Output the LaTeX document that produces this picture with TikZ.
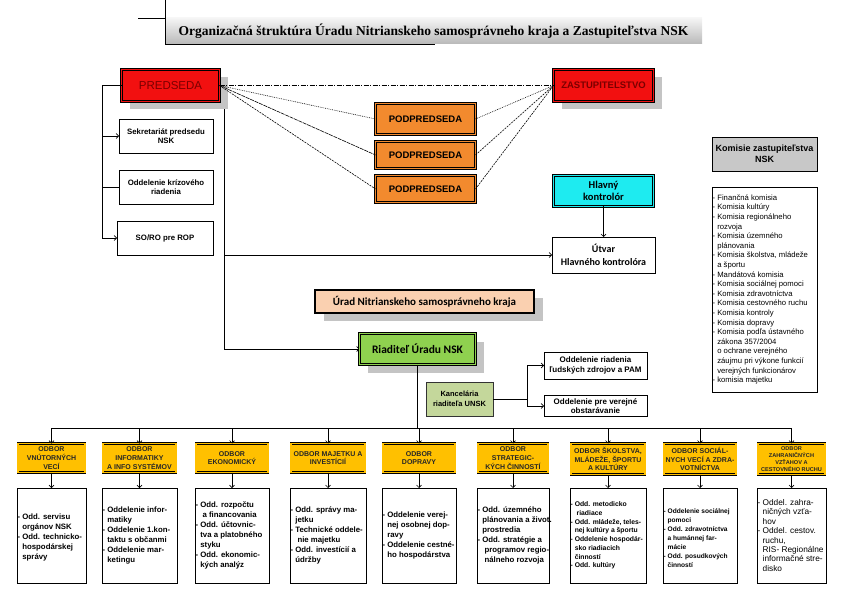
\documentclass[tikz,border=0pt]{standalone}
\usepackage{fontspec}
\setmainfont{Liberation Sans}
\newfontfamily\titlefont{Liberation Serif}
\newfontfamily\calfont{Carlito}
\usetikzlibrary{arrows.meta,shadows,backgrounds}
\definecolor{predred}{HTML}{F21010}
\definecolor{darkred}{HTML}{7A0000}
\definecolor{ppor}{HTML}{F28A2E}
\definecolor{cyanb}{HTML}{1EEBF0}
\definecolor{peach}{HTML}{FAD0B0}
\definecolor{greenb}{HTML}{8FD14F}
\definecolor{kancg}{HTML}{C4D79B}
\definecolor{goldb}{HTML}{FFC000}
\definecolor{komg}{HTML}{C8C8C8}
\definecolor{shadowc}{HTML}{C4C4C4}
\newcommand\myin{\hphantom{-\ }}
\begin{document}
\begin{tikzpicture}[x=1pt,y=-1pt,
  >={Straight Barb[length=2.5pt,width=5pt]},
  every node/.style={inner sep=0pt,outer sep=0pt},
  conn/.style={line width=0.6pt},
  dbl/.style={draw=black, line width=0.7pt, double=#1, double distance=1.1pt, fill=#1},
  shad/.style={drop shadow={shadow xshift=8.5pt,shadow yshift=-8pt,fill=shadowc,opacity=1}},
  thinbox/.style={draw=black, line width=0.7pt, fill=white},
  smallb/.style={font=\bfseries\fontsize{7.8}{9.5}\selectfont, align=center},
  odbor/.style={dbl=goldb, minimum height=29, font=\bfseries\fontsize{7}{8.8}\selectfont, align=center, text=black!85},
  subbox/.style={thinbox, minimum height=95},
  subtext/.style={anchor=west, align=left, font=\bfseries\fontsize{7.8}{10}\selectfont},
  pp/.style={dbl=ppor, minimum width=100, font=\bfseries\fontsize{9.5}{11}\selectfont},
]
\useasboundingbox (0,0) rectangle (843,596);

% title
\node[top color=gray!8, bottom color=gray!55, minimum width=537, minimum height=26,
      font=\titlefont\bfseries\fontsize{13.5}{15}\selectfont] (TITLE) at (433.5,31)
  {Organizačná štruktúra Úradu Nitrianskeho samosprávneho kraja a Zastupiteľstva NSK};
\draw[line width=0.7pt] (TITLE.north west) -- (TITLE.north west |- 0,0);
\draw[line width=0.7pt] (TITLE.north west) -- ++(-27,0);
\draw[line width=0.9pt] (TITLE.north west) -- (TITLE.south west) -- ++(270,0);

% top part
\node[dbl=predred, shad, minimum width=98, minimum height=32, text=darkred,
      font=\fontsize{11.5}{13}\selectfont] (PRED) at (170.5,85.5) {PREDSEDA};
\node[thinbox, smallb, minimum width=94, minimum height=34] (SEKR) at (166,136) {Sekretariát predsedu\\NSK};
\node[thinbox, smallb, minimum width=94, minimum height=34] (KRIZ) at (166,187) {Oddelenie krízového\\riadenia};
\node[thinbox, smallb, minimum width=96, minimum height=34] (SORO) at (165,238) {SO/RO pre ROP};

\node[pp, minimum height=31] (PP1) at (425.5,119) {PODPREDSEDA};
\node[pp, minimum height=27] (PP2) at (425.5,155) {PODPREDSEDA};
\node[pp, minimum height=27] (PP3) at (425.5,189) {PODPREDSEDA};

\node[dbl=predred, shad, minimum width=100, minimum height=32, text=darkred,
      font=\bfseries\fontsize{9.5}{11}\selectfont] (ZAST) at (603.5,85.5) {ZASTUPITEĽSTVO};
\node[dbl=cyanb, minimum width=100, minimum height=31, align=center,
      font=\calfont\bfseries\fontsize{10.5}{11.7}\selectfont] (HLAV) at (603.5,191) {Hlavný\\kontrolór};
\node[thinbox, minimum width=103, minimum height=36, align=center,
      font=\calfont\bfseries\fontsize{10}{13}\selectfont] (UTVAR) at (603.5,255) {Útvar\\Hlavného kontrolóra};

\node[draw=black, line width=0.7pt, fill=komg, minimum width=105, minimum height=34, align=center,
      font=\bfseries\fontsize{9}{11}\selectfont] (KOMH) at (764.5,154) {Komisie zastupiteľstva\\NSK};
\node[thinbox, minimum width=105, minimum height=205] (KOML) at (764.5,289.5) {};
\node[anchor=west, align=left, font=\fontsize{7.7}{9.6}\selectfont] (KOMT) at ([xshift=0.6pt]KOML.west)
  {- Finančná komisia\\- Komisia kultúry\\- Komisia regionálneho\\\myin rozvoja\\- Komisia územného\\\myin plánovania\\- Komisia školstva, mládeže\\\myin a športu\\- Mandátová komisia\\- Komisia sociálnej pomoci\\- Komisia zdravotníctva\\- Komisia cestovného ruchu\\- Komisia kontroly\\- Komisia dopravy\\- Komisia podľa ústavného\\\myin zákona 357/2004\\\myin o ochrane verejného\\\myin záujmu pri výkone  funkcií\\\myin verejných funkcionárov\\- komisia majetku};

% middle
\node[draw=black, line width=1.6pt, fill=peach, shad, minimum width=219, minimum height=23,
      font=\calfont\bfseries\fontsize{11}{13}\selectfont] (URAD) at (424.5,301.5) {Úrad Nitrianskeho samosprávneho kraja};
\node[dbl=greenb, shad, minimum width=116, minimum height=31,
      font=\calfont\bfseries\fontsize{11.5}{13}\selectfont] (RIAD) at (417.5,349) {Riaditeľ Úradu NSK};
\node[draw=black!80, line width=0.6pt, fill=kancg, minimum width=67, minimum height=34, align=center,
      font=\bfseries\fontsize{7.5}{10.5}\selectfont] (KANC) at (459.5,399) {Kancelária\\riaditeľa UNSK};
\node[thinbox, minimum width=103, minimum height=27, align=center,
      font=\bfseries\fontsize{8}{9.5}\selectfont] (ODDR) at (595.5,365.5) {Oddelenie riadenia\\ľudských zdrojov a PAM};
\node[thinbox, minimum width=103, minimum height=21, align=center,
      font=\bfseries\fontsize{8}{9}\selectfont] (ODDV) at (595.5,406) {Oddelenie pre verejné\\obstarávanie};

% odbory
\node[odbor, minimum width=67] (O1) at (51.5,458) {ODBOR\\VNÚTORNÝCH\\VECÍ};
\node[odbor, minimum width=73] (O2) at (139.5,458) {ODBOR\\INFORMATIKY\\A INFO SYSTÉMOV};
\node[odbor, minimum width=72] (O3) at (232,458) {ODBOR\\EKONOMICKÝ};
\node[odbor, minimum width=74] (O4) at (328,458) {ODBOR MAJETKU A\\INVESTÍCIÍ};
\node[odbor, minimum width=72] (O5) at (419,458) {ODBOR\\DOPRAVY};
\node[odbor, minimum width=70] (O6) at (513,458) {ODBOR\\STRATEGIC-\\KÝCH ČINNOSTÍ};
\node[odbor, minimum width=74, minimum height=31] (O7) at (608,459) {ODBOR ŠKOLSTVA,\\MLÁDEŽE, ŠPORTU\\A KULTÚRY};
\node[odbor, minimum width=72, minimum height=31] (O8) at (700,459) {ODBOR SOCIÁL-\\NYCH VECÍ A ZDRA-\\VOTNÍCTVA};
\node[odbor, minimum width=67, minimum height=31, font=\bfseries\fontsize{5.6}{7}\selectfont] (O9) at (791.5,459) {ODBOR\\ZAHRANIČNÝCH\\VZŤAHOV A\\CESTOVNÉHO RUCHU};

\node[subbox, minimum width=69] (S1) at (51.5,535.5) {};
\node[subbox, minimum width=75] (S2) at (139.5,535.5) {};
\node[subbox, minimum width=74] (S3) at (232,535.5) {};
\node[subbox, minimum width=76] (S4) at (328,535.5) {};
\node[subbox, minimum width=74] (S5) at (419,535.5) {};
\node[subbox, minimum width=72] (S6) at (513,535.5) {};
\node[subbox, minimum width=76] (S7) at (608,535.5) {};
\node[subbox, minimum width=74] (S8) at (700,535.5) {};
\node[subbox, minimum width=69] (S9) at (791.5,535.5) {};

\node[subtext] (T1) at ([xshift=0.6pt,yshift=-2pt]S1.west) {- Odd. servisu\\\myin orgánov NSK\\- Odd. technicko-\\\myin hospodárskej\\\myin správy};
\node[subtext] (T2) at ([xshift=0.6pt]S2.west) {- Oddelenie infor-\\\myin matiky\\- Oddelenie 1.kon-\\\myin taktu s občanmi\\- Oddelenie mar-\\\myin ketingu};
\node[subtext] (T3) at ([xshift=0.6pt]S3.west) {- Odd. rozpočtu\\\myin\ a financovania\\- Odd. účtovnic-\\\myin tva a platobného\\\myin styku\\- Odd. ekonomic-\\\myin kých analýz};
\node[subtext] (T4) at ([xshift=0.6pt]S4.west) {- Odd. správy ma-\\\myin jetku\\- Technické oddele-\\\myin\ nie majetku\\- Odd. investícií a\\\myin údržby};
\node[subtext] (T5) at ([xshift=0.6pt]S5.west) {- Oddelenie verej-\\\myin nej osobnej dop-\\\myin ravy\\- Oddelenie cestné-\\\myin ho hospodárstva};
\node[subtext] (T6) at ([xshift=0.6pt]S6.west) {- Odd. územného\\\myin plánovania a život.\\\myin prostredia\\- Odd. stratégie a\\\myin\ programov regio-\\\myin\ nálneho rozvoja};
\node[subtext, font=\bfseries\fontsize{6.8}{8.7}\selectfont] (T7) at ([xshift=0.6pt]S7.west) {- Odd. metodicko\\\myin\ riadiace\\- Odd. mládeže, teles-\\\myin nej kultúry a športu\\- Oddelenie hospodár-\\\myin sko riadiacich\\\myin činností\\- Odd. kultúry};
\node[subtext, font=\bfseries\fontsize{6.6}{9}\selectfont] (T8) at ([xshift=0.6pt,yshift=-3pt]S8.west) {- Oddelenie sociálnej\\\myin pomoci\\- Odd. zdravotníctva\\\myin a humánnej far-\\\myin mácie\\- Odd. posudkových\\\myin činností};
\node[subtext, font=\fontsize{8.3}{9.4}\selectfont] (T9) at ([xshift=0.6pt]S9.west) {- Oddel. zahra-\\\myin ničných vzťa-\\\myin hov\\- Oddel. cestov.\\\myin ruchu,\\\myin RIS- Regionálne\\\myin informačné stre-\\\myin disko};

% connectors
\coordinate (pv) at (224,85.5);
\coordinate (lb) at (102,85.5);
\begin{scope}[on background layer]
  \draw[conn,->] (PRED.east) -- (pv) |- (RIAD.west);
  \draw[conn,->] (pv |- UTVAR.west) -- (UTVAR.west);
\end{scope}
\draw[conn,->] (PRED.west) -- (lb) |- (SORO.west);
\draw[conn,->] (lb |- SEKR.west) -- (SEKR.west);
\draw[conn] (lb |- KRIZ.west) -- (KRIZ.west);

\draw[conn, dash pattern=on 5pt off 1.5pt on 1pt off 1.5pt] (PRED.east) -- (ZAST.west);
\draw[conn, dash pattern=on 0.8pt off 1pt] (PRED.east) -- (PP1.west);
\draw[conn, dash pattern=on 4pt off 0.8pt] (PRED.east) -- (PP2.west);
\draw[conn, dash pattern=on 2pt off 1pt] (PRED.east) -- (PP3.west);
\draw[conn, dash pattern=on 0.8pt off 1pt] (PP1.east) -- (ZAST.west);
\draw[conn, dash pattern=on 2pt off 1pt] (PP2.east) -- (ZAST.west);
\draw[conn, dash pattern=on 2pt off 1pt] (PP3.east) -- (ZAST.west);

\draw[conn,->] (HLAV.south) -- (UTVAR.north);

\coordinate (kj) at (527,399);
\draw[conn] (KANC.east) -- (kj);
\draw[conn,->] (kj) |- (ODDR.west);
\draw[conn,->] (kj) |- (ODDV.west);

\coordinate (bus) at (417.5,428);
\draw[conn] (RIAD.south) -- (bus);
\draw[conn] (bus -| O1.north) -- (bus -| O9.north);
\foreach \i in {1,...,9} {
  \draw[conn,->] (bus -| O\i.north) -- (O\i.north);
  \draw[conn,->] (O\i.south) -- (S\i.north);
}
\end{tikzpicture}
\end{document}
